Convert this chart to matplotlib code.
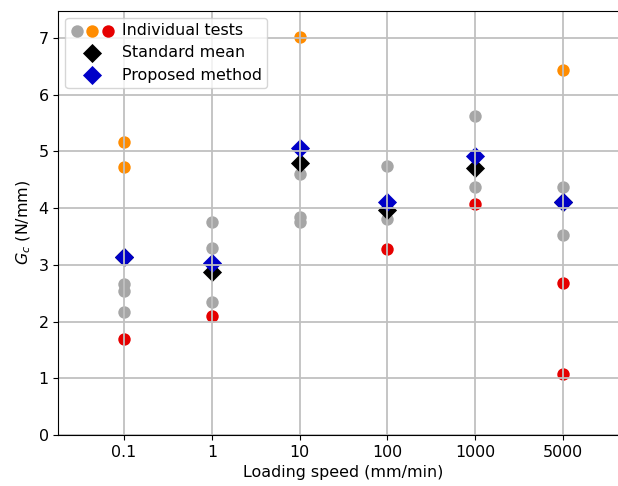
import matplotlib
matplotlib.use("Agg")
import matplotlib.pyplot as plt
from matplotlib.legend_handler import HandlerTuple
import numpy as np

speeds = ["0.1", "1", "10", "100", "1000", "5000"]

# Individual tests (grey = regular, orange = high outliers, red = low)
grey_x = ["0.1", "0.1", "0.1", "1", "1", "1", "10", "10", "10",
          "100", "100", "1000", "1000", "5000", "5000"]
grey_y = [2.66, 2.53, 2.16, 3.76, 3.30, 2.34, 4.60, 3.84, 3.76,
          4.74, 3.81, 5.63, 4.37, 4.37, 3.53]
orange_x = ["0.1", "0.1", "10", "5000"]
orange_y = [5.16, 4.73, 7.02, 6.44]
red_x = ["0.1", "1", "100", "1000", "5000", "5000"]
red_y = [1.69, 2.09, 3.28, 4.07, 2.68, 1.08]

standard_mean = [3.14, 2.87, 4.79, 3.97, 4.71, 4.10]
proposed_method = [3.14, 3.04, 5.06, 4.11, 4.92, 4.11]

pos = {s: i for i, s in enumerate(speeds)}

fig = plt.figure(figsize=(6.18, 4.86), dpi=100)
ax = fig.add_axes([58.3 / 618, 1 - 435 / 486, (628.5 - 58.3) / 618, (435 - 10.7) / 486])

fs = 11.4
s_c = 80
s_d = 95
h_g = ax.scatter([pos[v] for v in grey_x], grey_y, s=s_c, color="#a6a6a6", linewidths=0)
h_o = ax.scatter([pos[v] for v in orange_x], orange_y, s=s_c, color="#ff8c00", linewidths=0)
h_r = ax.scatter([pos[v] for v in red_x], red_y, s=s_c, color="#e60000", linewidths=0)
h_s = ax.scatter(range(len(speeds)), standard_mean, s=s_d, marker="D", color="black", linewidths=0)
h_p = ax.scatter(range(len(speeds)), proposed_method, s=s_d, marker="D", color="#0000c8", linewidths=0)

ax.set_xticks(range(len(speeds)))
ax.set_xticklabels(speeds)
ax.set_xlim(-0.75, 5.75)
ax.set_ylim(0, 7.48)
ax.set_yticks(range(0, 8))
ax.grid(True, color="#c0c0c0", linewidth=1.3)
ax.tick_params(labelsize=fs)
ax.set_xlabel("Loading speed (mm/min)", fontsize=fs)
ax.set_ylabel("$G_c$ (N/mm)", fontsize=fs)

ax.legend([(h_g, h_o, h_r), h_s, h_p],
          ["Individual tests", "Standard mean", "Proposed method"],
          handler_map={tuple: HandlerTuple(ndivide=None, pad=0.3)},
          loc="upper left", fontsize=fs, handlelength=2.7, borderaxespad=0.45,
          handletextpad=0.5, labelspacing=0.45, borderpad=0.35)

fig.savefig("out.png", dpi=100)
